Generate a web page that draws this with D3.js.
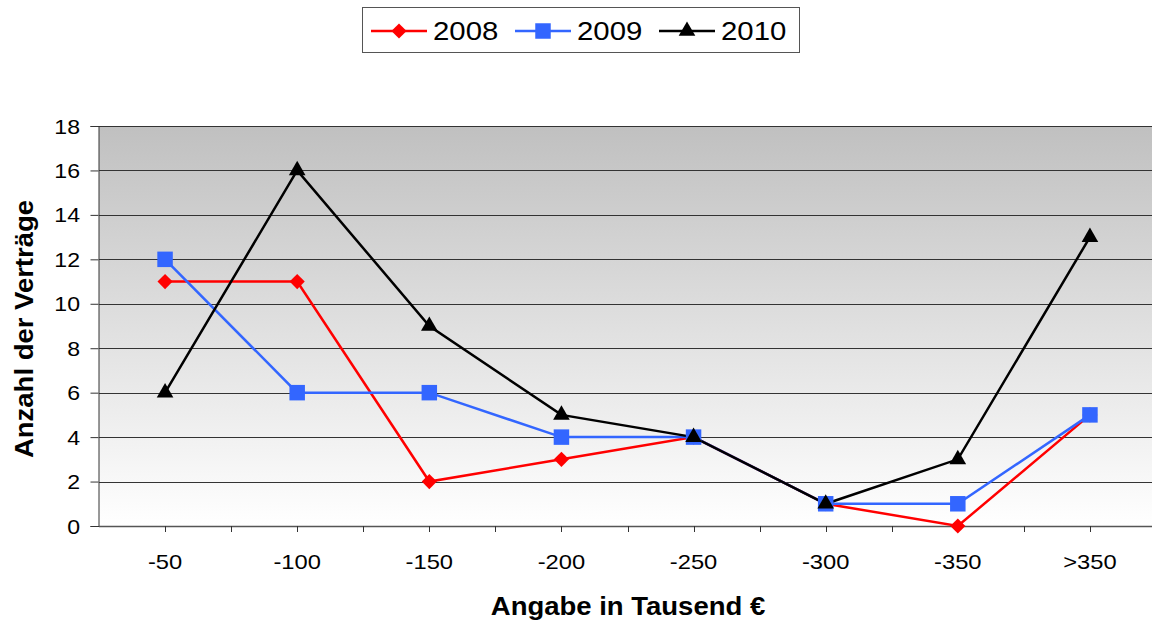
<!DOCTYPE html>
<html>
<head>
<meta charset="utf-8">
<script src="https://cdn.jsdelivr.net/npm/d3@7"></script>
<style>
  body { margin: 0; background: #fff; }
  text { font-family: "Liberation Sans", Arial, sans-serif; }
</style>
</head>
<body>
<div id="chart"></div>
<script>
const categories = ["-50", "-100", "-150", "-200", "-250", "-300", "-350", ">350"];
const years = ["2008", "2009", "2010"];
const values2008 = [11, 11, 2, 3, 4, 1, 0, 5];
const values2009 = [12, 6, 6, 4, 4, 1, 1, 5];
const values2010 = [6, 16, 9, 5, 4, 1, 3, 13];
const yTicks = [0, 2, 4, 6, 8, 10, 12, 14, 16, 18];

const width = 1152, height = 623;
const plot = { left: 99, right: 1156, top: 126, bottom: 526 };

const svg = d3.select("#chart").append("svg")
    .attr("width", width)
    .attr("height", height);

// 가로로 약간 넓은 글꼴 흉내
function wideText(parent, x, y, str, size, sx, anchor, bold) {
    return parent.append("text")
        .attr("transform", `translate(${x},${y}) scale(${sx},1)`)
        .attr("text-anchor", anchor)
        .attr("font-size", size)
        .attr("font-weight", bold ? "bold" : "normal")
        .text(str);
}

// 배경 그라데이션
const defs = svg.append("defs");
const grad = defs.append("linearGradient")
    .attr("id", "bg").attr("x1", 0).attr("y1", 0).attr("x2", 0).attr("y2", 1);
grad.append("stop").attr("offset", "0%").attr("stop-color", "#c0c0c0");
grad.append("stop").attr("offset", "100%").attr("stop-color", "#ffffff");

const x = d3.scaleBand().domain(categories).range([plot.left, plot.right]);
const y = d3.scaleLinear().domain([0, 18]).range([plot.bottom, plot.top]);
const cx = c => x(c) + x.bandwidth() / 2;

svg.append("rect")
    .attr("x", plot.left).attr("y", plot.top)
    .attr("width", plot.right - plot.left).attr("height", plot.bottom - plot.top)
    .attr("fill", "url(#bg)");

// 그리드
svg.append("g").selectAll("line")
    .data(yTicks.filter(d => d > 0))
    .join("line")
    .attr("x1", plot.left).attr("x2", plot.right)
    .attr("y1", d => Math.round(y(d)) + 0.5).attr("y2", d => Math.round(y(d)) + 0.5)
    .attr("stroke", "#333").attr("stroke-width", 1);

// y축
const yAxis = svg.append("g")
    .attr("transform", `translate(${plot.left - 0.5},0)`)
    .call(d3.axisLeft(y).tickValues(yTicks).tickSize(8).tickFormat(""));
yAxis.select(".domain").attr("stroke", "#333");
yAxis.selectAll(".tick line").attr("stroke", "#333");
const yLabels = svg.append("g");
yTicks.forEach(t => wideText(yLabels, 80, y(t) + 7.5, t, 21, 1.1, "end", false));

// x축 (눈금: 밴드 중심 + 경계)
const xAxisG = svg.append("g");
xAxisG.append("line")
    .attr("x1", plot.left).attr("x2", plot.right)
    .attr("y1", plot.bottom + 0.5).attr("y2", plot.bottom + 0.5)
    .attr("stroke", "#555").attr("stroke-width", 1.5);
const tickPos = [];
categories.forEach(c => {
    tickPos.push(x(c) + x.bandwidth() / 2);
    tickPos.push(x(c) + x.bandwidth());
});
xAxisG.selectAll(".xt")
    .data(tickPos)
    .join("line")
    .attr("x1", d => Math.round(d) + 0.5).attr("x2", d => Math.round(d) + 0.5)
    .attr("y1", plot.bottom).attr("y2", plot.bottom + 6)
    .attr("stroke", "#333");
categories.forEach(c => wideText(xAxisG, cx(c), 569, c, 21, 1.13, "middle", false));

// 축 제목
wideText(svg, 628, 615, "Angabe in Tausend €", 25, 1.1, "middle", true);
svg.append("text")
    .attr("transform", "translate(33,329) rotate(-90) scale(1.1,1)")
    .attr("text-anchor", "middle")
    .attr("font-size", 25).attr("font-weight", "bold")
    .text("Anzahl der Verträge");

// 기호
const diamond = {
    draw(ctx, size) {
        const r = Math.sqrt(size / 2);
        ctx.moveTo(0, -r); ctx.lineTo(r, 0); ctx.lineTo(0, r); ctx.lineTo(-r, 0); ctx.closePath();
    }
};
const series = [
    { name: years[0], values: values2008, color: "#ff0000", symbol: diamond, size: 115 },
    { name: years[1], values: values2009, color: "#3366ff", symbol: d3.symbolSquare, size: 240 },
    { name: years[2], values: values2010, color: "#000000", symbol: d3.symbolTriangle, size: 120 }
];

const line = d3.line().x((d, i) => cx(categories[i])).y(d => y(d));

series.forEach(s => {
    svg.append("path")
        .datum(s.values)
        .attr("d", line)
        .attr("fill", "none")
        .attr("stroke", s.color)
        .attr("stroke-width", 2.5);
});
series.forEach(s => {
    svg.append("g").selectAll("path")
        .data(s.values)
        .join("path")
        .attr("transform", (d, i) => `translate(${cx(categories[i])},${y(d)})`)
        .attr("d", d3.symbol().type(s.symbol).size(s.size)())
        .attr("fill", s.color);
});

// 범례
const legend = svg.append("g");
legend.append("rect")
    .attr("x", 362.5).attr("y", 7.5).attr("width", 437).attr("height", 45)
    .attr("fill", "#fff").attr("stroke", "#555").attr("stroke-width", 1);
const legendX = [371, 515, 659];
series.forEach((s, i) => {
    const lx = legendX[i];
    legend.append("line")
        .attr("x1", lx).attr("x2", lx + 56)
        .attr("y1", 31).attr("y2", 31)
        .attr("stroke", s.color).attr("stroke-width", 2.5);
    legend.append("path")
        .attr("transform", `translate(${lx + 28},31)`)
        .attr("d", d3.symbol().type(s.symbol).size(s.size)())
        .attr("fill", s.color);
    wideText(legend, lx + 62, 40, s.name, 26, 1.13, "start", false);
});
</script>
</body>
</html>
